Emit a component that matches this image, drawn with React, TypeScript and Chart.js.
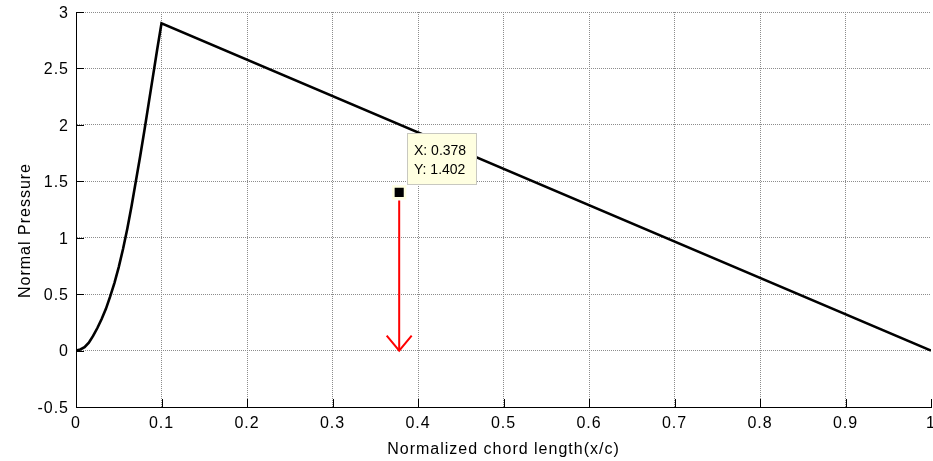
import React, { useEffect, useRef } from 'react';
import { Chart, registerables } from 'chart.js';

Chart.register(...registerables);

// ---- data ----
const curveX = [0, 0.005, 0.01, 0.015, 0.02, 0.025, 0.03, 0.035, 0.04, 0.045, 0.05, 0.055, 0.06, 0.065, 0.07, 0.075, 0.08, 0.085, 0.09, 0.095, 0.1, 1.0];
const curveY = [0, 0.01, 0.03, 0.07, 0.13, 0.2, 0.28, 0.37, 0.48, 0.6, 0.74, 0.9, 1.08, 1.28, 1.5, 1.72, 1.95, 2.19, 2.43, 2.67, 2.9, 0];

const xTickValues = [0, 0.1, 0.2, 0.3, 0.4, 0.5, 0.6, 0.7, 0.8, 0.9, 1];
const xTickLabels = ['0', '0.1', '0.2', '0.3', '0.4', '0.5', '0.6', '0.7', '0.8', '0.9', '1'];
const yTickValues = [-0.5, 0, 0.5, 1, 1.5, 2, 2.5, 3];
const yTickLabels = ['-0.5', '0', '0.5', '1', '1.5', '2', '2.5', '3'];

const datatipX = [0.378];
const datatipY = [1.402];
const tipLines = ['X: 0.378', 'Y: 1.402'];

const arrowX = [0.378, 0.378];
const arrowY = [1.33, 0];

const xTitle = 'Normalized chord length(x/c)';
const yTitle = 'Normal Pressure';

const FONT = '"Liberation Sans", Arial, sans-serif';

const matlabPlugin = {
  id: 'matlabLook',
  beforeDraw(chart: any) {
    (chart.ctx as any).letterSpacing = '1px';
  },
  afterDatasetsDraw(chart: any) {
    const { ctx, chartArea: a, scales } = chart;
    const x = scales.x;
    const y = scales.y;
    ctx.save();
    // inner tick marks
    ctx.strokeStyle = '#000';
    ctx.lineWidth = 1;
    ctx.setLineDash([]);
    ctx.beginPath();
    xTickValues.forEach((v) => {
      const px = Math.round(x.getPixelForValue(v)) + 0.5;
      ctx.moveTo(px, a.bottom);
      ctx.lineTo(px, a.bottom - 8);
    });
    yTickValues.forEach((v) => {
      const py = Math.round(y.getPixelForValue(v)) + 0.5;
      ctx.moveTo(a.left, py);
      ctx.lineTo(a.left + 8, py);
    });
    ctx.stroke();

    // arrowhead
    const ax = x.getPixelForValue(arrowX[1]);
    const ay = y.getPixelForValue(arrowY[1]);
    ctx.strokeStyle = '#ff0000';
    ctx.lineWidth = 2;
    ctx.beginPath();
    ctx.moveTo(ax - 12.5, ay - 15);
    ctx.lineTo(ax, ay);
    ctx.lineTo(ax + 12.5, ay - 15);
    ctx.stroke();

    // datatip box
    const mx = x.getPixelForValue(datatipX[0]);
    const my = y.getPixelForValue(datatipY[0]);
    const bx = Math.round(mx + 8);
    const by = Math.round(my - 59);
    const bw = 70;
    const bh = 52;
    ctx.fillStyle = '#ffffe1';
    ctx.fillRect(bx, by, bw, bh);
    ctx.strokeStyle = '#c8c8c0';
    ctx.lineWidth = 1;
    ctx.strokeRect(bx + 0.5, by + 0.5, bw - 1, bh - 1);
    (ctx as any).letterSpacing = '0px';
    ctx.fillStyle = '#000';
    ctx.font = '14px ' + FONT;
    ctx.textAlign = 'left';
    ctx.textBaseline = 'alphabetic';
    ctx.fillText(tipLines[0], bx + 7, by + 21.5);
    ctx.fillText(tipLines[1], bx + 7, by + 40.5);
    ctx.restore();
  },
  afterDraw(chart: any) {
    const { ctx, chartArea: a } = chart;
    ctx.save();
    (ctx as any).letterSpacing = '1px';
    ctx.fillStyle = '#000';
    ctx.font = '16px ' + FONT;
    ctx.textAlign = 'center';
    ctx.textBaseline = 'alphabetic';
    ctx.fillText(xTitle, (a.left + a.right) / 2, chart.height - 7);
    ctx.translate(30, (a.top + a.bottom) / 2 + 21);
    ctx.rotate(-Math.PI / 2);
    ctx.fillText(yTitle, 0, 0);
    ctx.restore();
  },
};

export default function App() {
  const canvasRef = useRef<HTMLCanvasElement | null>(null);

  useEffect(() => {
    document.body.style.margin = '0';
    const canvas = canvasRef.current;
    if (!canvas) return;

    const curve = curveX.map((v, i) => ({ x: v, y: curveY[i] }));
    const arrow = arrowX.map((v, i) => ({ x: v, y: arrowY[i] }));
    const tip = datatipX.map((v, i) => ({ x: v, y: datatipY[i] }));

    const xGridColor = (c: any) =>
      c.index === xTickValues.length - 1 ? 'rgba(0,0,0,0)' : '#8c8c8c';

    const chart = new Chart(canvas, {
      type: 'scatter',
      data: {
        datasets: [
          {
            data: tip,
            pointStyle: 'rect',
            pointRadius: 8.2,
            backgroundColor: '#000',
            borderColor: '#ffffe1',
            borderWidth: 2.5,
            showLine: false,
          },
          {
            data: arrow,
            showLine: true,
            borderColor: '#ff0000',
            borderWidth: 2,
            pointRadius: 0,
          },
          {
            data: curve,
            showLine: true,
            borderColor: '#000',
            borderWidth: 2.6,
            pointRadius: 0,
            tension: 0,
          },
        ],
      },
      options: {
        responsive: false,
        animation: false,
        devicePixelRatio: 1,
        events: [],
        layout: { autoPadding: false, padding: { top: 12, right: 2, left: 0, bottom: 0 } },
        plugins: {
          legend: { display: false },
          tooltip: { enabled: false },
        },
        scales: {
          x: {
            type: 'linear',
            min: 0,
            max: 1,
            afterBuildTicks: (s: any) => {
              s.ticks = xTickValues.map((v) => ({ value: v }));
            },
            afterFit: (s: any) => {
              s.height = 54;
              s.paddingLeft = 0;
              s.paddingRight = 0;
            },
            ticks: {
              autoSkip: false,
              maxRotation: 0,
              padding: 7,
              color: '#000',
              font: { family: FONT, size: 16 },
              callback: (_v: any, i: number) => xTickLabels[i],
            },
            grid: { color: xGridColor, lineWidth: 1, drawTicks: false },
            border: { display: true, color: '#000', width: 1, dash: [1, 1] },
          },
          y: {
            type: 'linear',
            min: -0.5,
            max: 3,
            afterBuildTicks: (s: any) => {
              s.ticks = yTickValues.map((v) => ({ value: v }));
            },
            afterFit: (s: any) => {
              s.width = 76;
              s.paddingTop = 0;
              s.paddingBottom = 0;
            },
            ticks: {
              autoSkip: false,
              padding: 7,
              labelOffset: 1.5,
              color: '#000',
              font: { family: FONT, size: 16 },
              callback: (_v: any, i: number) => yTickLabels[i],
            },
            grid: { color: '#8c8c8c', lineWidth: 1, drawTicks: false },
            border: { display: true, color: '#000', width: 1, dash: [1, 1] },
          },
        },
      },
      plugins: [matlabPlugin],
    } as any);

    return () => chart.destroy();
  }, []);

  return (
    <div style={{ width: 933, height: 461, position: 'relative', background: '#fff' }}>
      <canvas ref={canvasRef} width={933} height={461} style={{ display: 'block' }} />
    </div>
  );
}
